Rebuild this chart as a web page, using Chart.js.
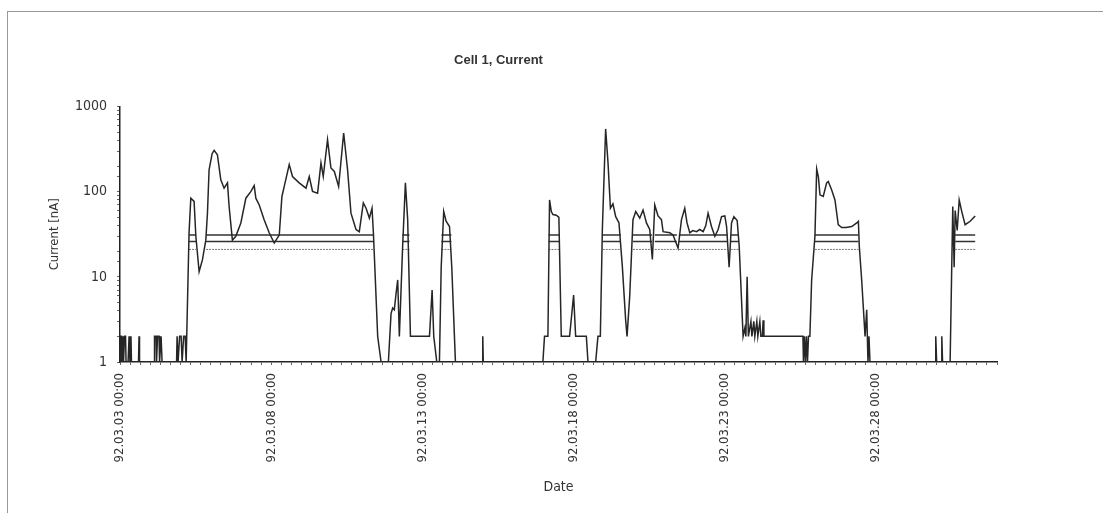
<!DOCTYPE html>
<html><head><meta charset="utf-8">
<script src="https://cdn.jsdelivr.net/npm/chart.js@4.4.1/dist/chart.umd.min.js"></script>
<style>
html,body{margin:0;padding:0;background:#fff;}
#wrap{position:relative;width:1109px;height:513px;overflow:hidden;}
#frame{position:absolute;left:7px;top:11px;width:1095px;height:510px;border-left:1px solid #999;border-top:1px solid #999;}
canvas{position:absolute;left:0;top:0;}
</style></head><body>
<div id="wrap"><div id="frame"></div><canvas id="c" width="1109" height="513"></canvas></div>
<script>
// time axis: hours since 92.03.03 00:00
const tickHours = [0, 120, 240, 360, 480, 600];
const tickLabels = ['92.03.03 00:00', '92.03.08 00:00', '92.03.13 00:00', '92.03.18 00:00', '92.03.23 00:00', '92.03.28 00:00'];
const yTickLabels = ['1', '10', '100', '1000'];

const hours = [0,0.4,1.2,1.6,2.4,2.8,3.6,4.4,4.8,6.4,7.2,7.9,8.7,9.1,14.7,15.1,15.5,27.0,27.4,28.6,29.0,29.8,31.0,31.4,32.6,33.4,44.9,45.3,46.1,47.3,48.5,49.3,50.5,51.7,52.5,
54.8,56.2,58.8,60.2,62.8,65.4,68.1,69.4,70.7,73.1,74.7,77.3,80.0,82.6,85.3,86.6,89.2,91.9,95.9,99.9,103.9,106.5,107.8,110.5,114.4,118.4,122.4,126.4,128.5,130.3,134.3,136.9,142.2,147.6,150.2,152.8,156.8,159.5,161.3,164.7,167.4,170.1,173.5,177.5,180.6,183.3,187.3,189.9,193.1,195.3,197.9,200.0,201.1,
204.5,207.2,213.0,215.1,216.4,217.7,219.1,220.4,221.7,224.3,226.5,228.3,230.5,245.6,247.7,249.0,251.4,253.5,254.9,256.9,258.8,261.5,263.3,266.2,287.5,287.9,288.3,
335.6,336.9,339.6,340.9,342.3,343.6,346.3,348.3,350.2,356.8,360.0,361.6,370.1,371.4,377.5,379.3,381.2,382.8,385.4,387.3,389.2,391.2,393.4,396.0,398.7,401.3,402.4,404.5,407.1,409.3,412.5,415.1,417.8,420.4,422.5,424.4,427.0,429.7,431.0,436.3,438.9,442.9,445.6,448.2,450.0,452.2,454.6,457.5,460.1,462.8,464.9,466.7,469.4,472.1,474.7,477.4,480.0,481.4,483.4,485.3,487.2,489.8,491.4,
494.5,495.9,496.7,497.7,498.7,500.7,501.5,503.0,503.8,505.4,506.2,507.8,508.6,509.8,510.4,511.0,542.0,542.4,543.2,544.0,544.8,545.6,546.4,547.5,548.9,551.5,552.9,554.2,555.5,558.1,560.8,562.1,564.8,567.4,570.0,572.7,576.2,580.7,584.7,586.0,586.7,588.6,591.3,592.6,593.6,594.4,595.2,
646.9,647.4,648.1,651.7,652.2,652.8,658.8,660.9,662.0,662.8,664.4,666.0,668.1,670.7,674.7,678.7];

const current = [1,2,2,1,2,1,2,2,1,1,2,1,2,1,1,2,1,1,2,2,1,2,2,1,2,1,1,2,1,2,2,1,2,2,1,
33,84,77,30,11.5,15.8,27,56,181,280,306,272,138,110,127,67,27,30,43,84,101,118,84,70,47,33,25,31,88,115,208,151,127,110,151,101,96,218,151,409,190,173,115,490,181,56,36,34,74,64,49,64,33,
2,1,1,3.7,4.3,4.1,6.4,9.2,2,22.7,127,47,2,2,7,2,1,1,13,58.5,45,39,13,1,1,2,1,
1,2,2,80,58.5,54,53,50,2,2,6.1,2,2,1,1,2,2,36,547,218,64,72,51,43,13,3.1,2,5.9,47,58.5,49,61,43,36,16,70,52,47,34,33,31,21.7,47,64,43,33,35,34,36,34,40,56,39,30,36,51,52,39,13,43,51,46,23,
2,2.5,2,10,2,3,2,3,2,3,2,3,2,2,3.1,2,2,1,2,1,2,1,2,2,9.2,30,185,151,92,88,127,132,105,80,41,38,38,39,43,45,23,9.2,2,4.1,1,2,1,
1,2,1,1,2,1,1,67,13,60,35,80,58,41,45,52];

// limit levels and the periods in which they are shown
const limitLevels = [31, 26, 21];
const limitStart = [54.8, 68.3, 224.1, 255.1, 340.1, 383.1, 407.1, 424.4, 443.5, 484.6, 551.5, 662.8];
const limitEnd   = [60.4, 201.1, 229.7, 263.0, 348.8, 397.4, 422.2, 441.9, 482.2, 490.9, 586.0, 678.7];

const mainPts = hours.map((h, i) => ({x: h, y: current[i]}));
function limitPts(level) {
  const pts = [];
  limitStart.forEach((s, i) => {
    pts.push({x: s, y: level}, {x: limitEnd[i], y: level}, {x: limitEnd[i], y: null});
  });
  return pts;
}

const axisFont = {family: "'Liberation Sans Narrow', 'DejaVu Sans Condensed', sans-serif", size: 13};
const lineColor = '#262626';

new Chart(document.getElementById('c'), {
  type: 'line',
  data: {
    datasets: [
      {data: mainPts, borderColor: lineColor, borderWidth: 1.5, pointRadius: 0, tension: 0, spanGaps: false},
      {data: limitPts(limitLevels[0]), borderColor: '#333', borderWidth: 1.6, pointRadius: 0, spanGaps: false},
      {data: limitPts(limitLevels[1]), borderColor: '#333', borderWidth: 1.6, pointRadius: 0, spanGaps: false},
      {data: limitPts(limitLevels[2]), borderColor: '#777', borderWidth: 1, borderDash: [2, 1], pointRadius: 0, spanGaps: false}
    ]
  },
  options: {
    responsive: false,
    animation: false,
    devicePixelRatio: 1,
    layout: {padding: {left: 0, right: 112, top: 0, bottom: 0}},
    plugins: {
      legend: {display: false},
      tooltip: {enabled: false},
      title: {
        display: true, text: 'Cell 1, Current', color: '#333',
        font: {family: "'Liberation Sans', Arial, sans-serif", size: 13, weight: 'bold'},
        padding: {top: 53, bottom: 38}
      }
    },
    scales: {
      x: {
        type: 'linear', min: 0, max: 696,
        border: {display: true, color: '#222', width: 1.5},
        grid: {display: true, drawOnChartArea: false, drawTicks: true, tickLength: 3, tickColor: '#666', tickWidth: 1},
        ticks: {
          stepSize: 8, autoSkip: false, minRotation: 90, maxRotation: 90, padding: 8,
          color: '#333', font: axisFont,
          callback: (v) => { const k = tickHours.indexOf(v); return k >= 0 ? tickLabels[k] : ''; }
        },
        title: {display: true, text: 'Date', color: '#333', font: {family: axisFont.family, size: 14}, padding: {top: 0, bottom: 17}},
        afterFit: (s) => { s.height = 151; }
      },
      y: {
        type: 'logarithmic', min: 1, max: 1000,
        border: {display: true, color: '#222', width: 1.5},
        grid: {display: true, drawOnChartArea: false, drawTicks: true, tickLength: 3, tickColor: '#666', tickWidth: 1},
        ticks: {
          autoSkip: false, padding: 10, color: '#333', font: {family: axisFont.family, size: 14},
          callback: (v) => { const e = Math.log10(v); return Math.abs(e - Math.round(e)) < 1e-9 ? yTickLabels[Math.round(e)] : ''; }
        },
        title: {display: true, text: 'Current [nA]', color: '#333', font: {family: axisFont.family, size: 13}, padding: {top: 47, bottom: 0}},
        afterFit: (s) => { s.width = 120; }
      }
    }
  }
});
</script></body></html>
